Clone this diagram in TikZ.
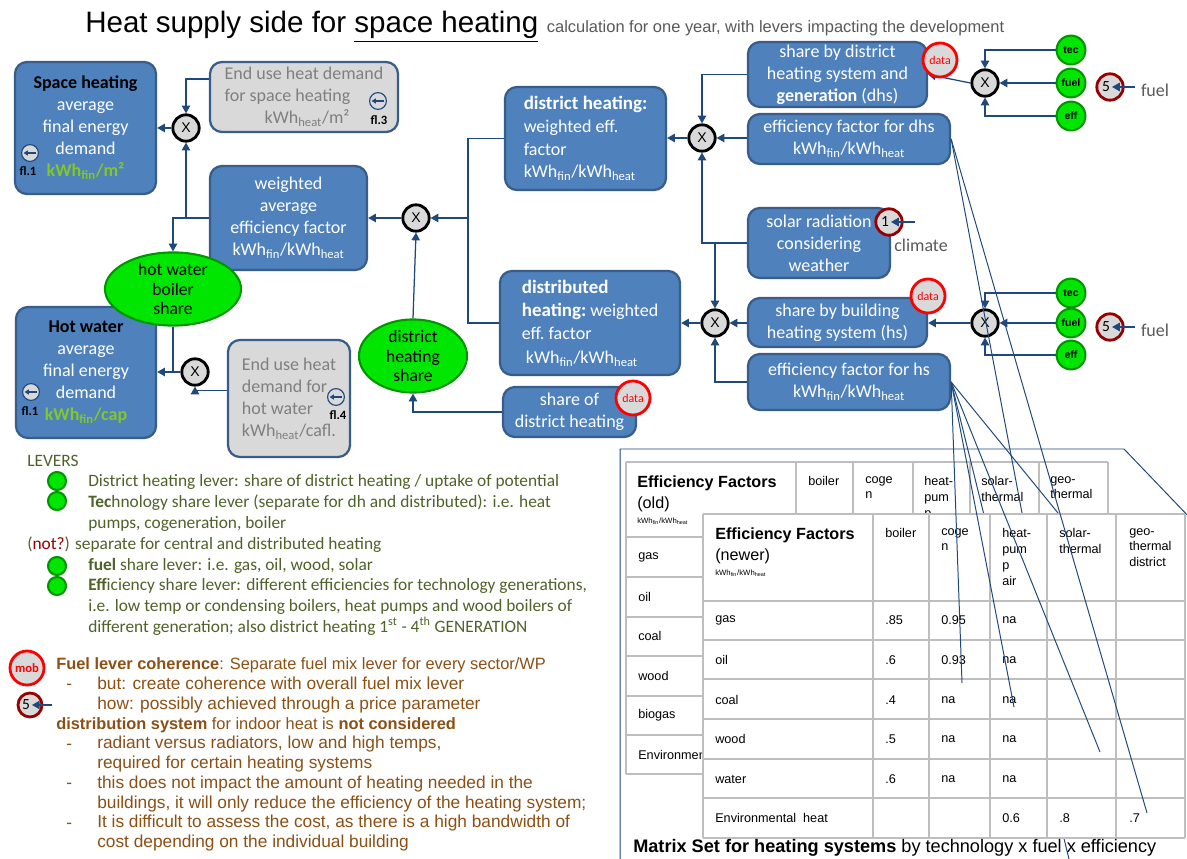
\documentclass[tikz,border=0pt]{standalone}
\usepackage{fontspec}
\setmainfont{Carlito}
\newfontfamily\arialfont{Liberation Sans}
\usetikzlibrary{positioning,arrows.meta,calc,shapes.geometric}

\definecolor{boxblue}{RGB}{79,129,189}
\definecolor{boxline}{RGB}{56,93,138}
\definecolor{boxgray}{RGB}{217,217,217}
\definecolor{txtgray}{RGB}{127,127,127}
\definecolor{notegray}{RGB}{89,89,89}
\definecolor{linkblue}{RGB}{31,73,125}
\definecolor{levgreen}{RGB}{0,230,0}
\definecolor{levgreenline}{RGB}{0,150,0}
\definecolor{kwhgreen}{RGB}{130,200,40}
\definecolor{levtxt}{RGB}{79,98,40}
\definecolor{levbrown}{RGB}{140,80,20}
\definecolor{darkred}{RGB}{150,0,0}
\definecolor{tabline}{RGB}{190,190,190}

\tikzset{
  bluebox/.style={rectangle, rounded corners=0.3cm, fill=boxblue, draw=boxline,
    line width=1.6pt, text=white, inner sep=0pt, align=center,
    font=\fontsize{12.8}{15.6}\selectfont},
  graybox/.style={bluebox, fill=boxgray, text=txtgray},
  shareell/.style={ellipse, fill=levgreen, draw=levgreenline, line width=1.5pt,
    inner sep=0pt, align=center, font=\fontsize{12.5}{14}\selectfont},
  mult/.style={circle, fill=boxgray, draw=black, line width=2pt,
    minimum size=0.66cm, inner sep=0pt, font=\arialfont\fontsize{10}{12}\selectfont},
  datacirc/.style={circle, fill=boxgray, draw=red, line width=2pt,
    minimum size=0.85cm, inner sep=0pt, text=red, font=\fontsize{8.5}{10}\selectfont},
  lever/.style={circle, fill=levgreen, draw=levgreenline, line width=1.5pt,
    minimum size=0.72cm, inner sep=0pt, font=\arialfont\bfseries\fontsize{7.5}{9}\selectfont},
  levdot/.style={circle, fill=levgreen, draw=levgreenline, line width=1.5pt,
    minimum size=0.45cm, inner sep=0pt},
  extin/.style={circle, fill=boxgray, draw=darkred, line width=2pt,
    minimum size=0.66cm, inner sep=0pt, font=\fontsize{11}{12}\selectfont},
  link/.style={draw=linkblue, line width=0.9pt, -{Triangle[length=5.5pt,width=6pt]}},
  plain/.style={draw=linkblue, line width=0.9pt},
  lead/.style={draw=linkblue, line width=0.7pt},
  tabgrid/.style={draw=tabline, line width=0.9pt},
  tabtxt/.style={inner sep=0pt, align=left, font=\arialfont\fontsize{9}{11.3}\selectfont},
  tabhead/.style={tabtxt, font=\arialfont\fontsize{11.5}{15}\selectfont},
  levtext/.style={anchor=base west, inner sep=0pt, align=left, text=levtxt,
    font=\fontsize{12.35}{14.9}\selectfont},
  brtext/.style={anchor=base west, inner sep=0pt, align=left, text=levbrown,
    font=\arialfont\fontsize{12.3}{14}\selectfont},
  fltxt/.style={inner sep=0pt, font=\bfseries\fontsize{9}{10}\selectfont},
  flicon/.pic={
    \node[circle, fill=boxgray, draw=linkblue, line width=0.8pt,
      minimum size=0.42cm, inner sep=0pt] (-c) {};
    \draw[linkblue, line width=0.8pt, -{Triangle[length=3pt,width=3.5pt]}]
      (0.16cm,0) -- (-0.16cm,0);
  }
}

\begin{document}
\begin{tikzpicture}[x=0.025cm, y=-0.025cm]
\useasboundingbox (0,0) rectangle (1187,859);
\fill[white] (0,0) rectangle (1187,859);

% title
\node[anchor=base west, inner sep=0pt, font=\arialfont\fontsize{21}{25}\selectfont]
  (title) at (85,33) {Heat supply side for \underline{space heating}};
\node[anchor=base west, inner sep=0pt, text=notegray,
  font=\arialfont\fontsize{11.7}{14}\selectfont]
  (subtitle) at ([xshift=0.2cm]title.base east)
  {calculation for one year, with levers impacting the development};

% demand side
\node[bluebox, minimum width=3.525cm, minimum height=3.3cm] (sh) at (85.5,128)
  {\textcolor{black}{\bfseries Space heating}\\average\\final energy\\demand\\
   \textcolor{kwhgreen}{\bfseries kWh\textsubscript{fin}/m²}};
\pic (fla) at (30,153) {flicon};
\node[fltxt] (fla-t) at (28,171) {fl.1};

\node[bluebox, minimum width=3.5cm, minimum height=3.275cm] (hw) at (86,372.5)
  {\textcolor{black}{\bfseries Hot water}\\average\\final energy\\demand\\
   \textcolor{kwhgreen}{\bfseries kWh\textsubscript{fin}/cap}};
\pic (flb) at (31,392) {flicon};
\node[fltxt] (flb-t) at (30,411) {fl.1};

\node[graybox, minimum width=4.7cm, minimum height=1.75cm, align=left] (eush) at (304,97)
  {End use heat demand\\for space heating\\\hspace*{1cm}kWh\textsubscript{heat}/m²};
\pic (flc) at (378,101) {flicon};
\node[fltxt] (flc-t) at (379,120) {fl.3};

\node[graybox, minimum width=3.05cm, minimum height=2.925cm, align=left] (euhw) at (289,398.5)
  {End use heat\\demand for\\hot water\\kWh\textsubscript{heat}/cafl.};
\pic (fld) at (336,397) {flicon};
\node[fltxt] (fld-t) at (338,415) {fl.4};

\node[bluebox, minimum width=3.925cm, minimum height=2.6cm] (wavg) at (288.5,218)
  {weighted\\average\\efficiency factor\\kWh\textsubscript{fin}/kWh\textsubscript{heat}};

\node[mult] (x1) at (186,128) {X};
\node[mult] (x2) at (195,372) {X};
\node[mult] (x3) at (416,218) {X};
\node[mult] (x4) at (702,138) {X};
\node[mult] (x5) at (715,323) {X};
\node[mult] (x6) at (985,83) {X};
\node[mult] (x7) at (985,323) {X};

\node[shareell, minimum width=3.4cm, minimum height=1.6cm] (hwb) at (173,289)
  {hot water\\boiler\\share};
\node[shareell, minimum width=2.7cm, minimum height=1.6cm] (dhsh) at (413,356)
  {district\\heating\\share};

\node[bluebox, minimum width=3.325cm, minimum height=1.25cm] (sodh) at (569.5,412)
  {share of\\district heating};

% supply side
\node[bluebox, minimum width=4.025cm, minimum height=2.575cm, align=left,
  font=\fontsize{12.8}{16.2}\selectfont] (dh) at (585.5,138.5)
  {{\fontsize{13.5}{16.2}\selectfont\bfseries district heating:}\\weighted eff.\\factor\\
   kWh\textsubscript{fin}/kWh\textsubscript{heat}};
\node[bluebox, minimum width=4.5cm, minimum height=2.6cm, align=left,
  font=\fontsize{12.8}{16.6}\selectfont] (dist) at (590,323)
  {{\fontsize{13.5}{16.6}\selectfont\bfseries distributed}\\
   {\fontsize{13.5}{16.6}\selectfont\bfseries heating:}\ weighted\\eff.\ factor\\
   \ kWh\textsubscript{fin}/kWh\textsubscript{heat}};

\node[bluebox, minimum width=4.475cm, minimum height=1.625cm] (shdhs) at (837.5,74.5)
  {share by district\\heating system and\\\textbf{generation} (dhs)};
\node[bluebox, minimum width=5.05cm, minimum height=1.25cm] (effdhs) at (849,139)
  {efficiency factor for dhs\\kWh\textsubscript{fin}/kWh\textsubscript{heat}};
\node[bluebox, minimum width=3.55cm, minimum height=1.75cm] (solar) at (819,243)
  {solar radiation\\considering\\weather};
\node[bluebox, minimum width=4.475cm, minimum height=1.225cm] (shhs) at (837.5,322.5)
  {share by building\\heating system (hs)};
\node[bluebox, minimum width=5.05cm, minimum height=1.4cm] (effhs) at (849,382)
  {efficiency factor for hs\\kWh\textsubscript{fin}/kWh\textsubscript{heat}};

\node[lever] (tec1) at (1071,50) {tec};
\node[lever] (fuel1) at (1071,83) {fuel};
\node[lever] (eff1) at (1071,116) {eff};
\node[lever] (tec2) at (1071,293) {tec};
\node[lever] (fuel2) at (1071,323) {fuel};
\node[lever] (eff2) at (1071,355) {eff};

\node[extin] (one) at (889,222) {1\hspace*{0.2cm}};
\node[extin] (five1) at (1110,87) {5\hspace*{0.2cm}};
\node[extin] (five2) at (1110,327) {5\hspace*{0.2cm}};
\coordinate (onein) at (915,222);
\coordinate (f1in) at (1135,87);
\coordinate (f2in) at (1135,327);
\node[text=notegray, inner sep=0pt, font=\fontsize{12.8}{15}\selectfont] (clim) at (921,245) {climate};
\node[text=notegray, inner sep=0pt, font=\fontsize{12.8}{15}\selectfont] (fuelt1) at (1155,90) {fuel};
\node[text=notegray, inner sep=0pt, font=\fontsize{12.8}{15}\selectfont] (fuelt2) at (1155,330) {fuel};

% connectors
\draw[link] (x1.west) -- (sh.east |- x1.west);
\draw[link] ($(eush.north west)!0.25!(eush.south west)$) -| (x1.north);
\draw[link] (wavg.west) -| (x1.south);
\draw[link] (wavg.west) -| (hwb.north);
\draw[link] (x2.west) -- (hw.east |- x2.west);
\draw[plain] (hwb.south) -- (hwb.south |- x2.west);
\draw[link] ($(euhw.north west)!0.43!(euhw.south west)$) -| (x2.south);
\draw[link] (x3.west) -- (wavg.east |- x3.west);
\draw[link] (dhsh.north) -- (x3.south);
\draw[link] (sodh.west) -| (dhsh.south);
\coordinate (split) at (468,218);
\draw[plain] (dh.west) -| (split) |- (dist.west);
\draw[link] (split) -- (x3.east);
\draw[link] (x4.west) -- (dh.east |- x4.west);
\draw[link] (shdhs.west) -| (x4.north);
\draw[link] (effdhs.west |- x4.east) -- (x4.east);
\draw[link] (solar.west) -| (x4.south);
\draw[link] (solar.west -| x5.north) -- (x5.north);
\draw[link] (x5.west) -- (dist.east |- x5.west);
\draw[link] (shhs.west |- x5.east) -- (x5.east);
\draw[link] (effhs.west) -| (x5.south);
\foreach \n/\m in {1/6,2/7} {
  \draw[link] (tec\n.west) -| (x\m.north);
  \draw[link] (fuel\n.west) -- (x\m.east);
  \draw[link] (eff\n.west) -| (x\m.south);
}
\draw[link] (x6.west) -- (shdhs.east);
\draw[link] (x7.west) -- (shhs.east |- x7.west);
\draw[link] (onein) -- ([xshift=0.05cm]one.center);
\draw[link] (f1in) -- ([xshift=0.05cm]five1.center);
\draw[link] (f2in) -- ([xshift=0.05cm]five2.center);

\node[datacirc] (data1) at (633,398) {data};
\node[datacirc] (data2) at (940,60) {data};
\node[datacirc] (data3) at (928,296) {data};

% levers
\node[levtext] (levhd) at (27,466) {LEVERS};
\foreach \yy [count=\i] in {481,501,566,586}
  \node[levdot] (dot\i) at (57,\yy) {};
\node[levtext] (lev1) at (88,486) {District heating lever: share of district heating / uptake of potential};
\node[levtext] (lev2) at (88,528) {\textbf{Tec}hnology share lever (separate for dh and distributed): i.e. heat\\pumps, cogeneration, boiler};
\node[levtext] (lev3) at (27,549) {(\textcolor{darkred}{not?}) separate for central and distributed heating};
\node[levtext] (lev4) at (88,570) {\textbf{fuel} share lever: i.e. gas, oil, wood, solar};
\node[levtext] (lev5) at (88,632) {\textbf{Eff}iciency share lever: different efficiencies for technology generations,\\
  i.e. low temp or condensing boilers, heat pumps and wood boilers of\\
  different generation; also district heating 1\textsuperscript{st} - 4\textsuperscript{th} GENERATION};

% coherence notes
\node[datacirc, font=\bfseries\fontsize{9}{10}\selectfont] (mob) at (27,668) {mob};
\node[extin, minimum size=0.6cm] (five3) at (30,705) {5\hspace*{0.2cm}};
\coordinate (f3in) at (52,705);
\draw[link] (f3in) -- ([xshift=0.05cm]five3.center);
\node[brtext, font=\arialfont\fontsize{11.65}{14}\selectfont] (coh) at (56,669)
  {\textbf{Fuel lever coherence}: Separate fuel mix lever for every sector/WP};
\node[brtext] (cohd) at (66,689) {-};
\node[brtext] (coh1) at (97,709) {but: create coherence with overall fuel mix lever\\how: possibly achieved through a price parameter};
\node[brtext, font=\arialfont\fontsize{11.65}{14}\selectfont] (dsys) at (56,729)
  {\textbf{distribution system} for indoor heat is \textbf{not considered}};
\node[brtext] (dsd1) at (66,749) {-};
\node[brtext] (ds1) at (97,768) {radiant versus radiators, low and high temps,\\required for certain heating systems};
\node[brtext] (dsd2) at (66,788) {-};
\node[brtext] (ds2) at (97,808) {this does not impact the amount of heating needed in the\\buildings, it will only reduce the efficiency of the heating system;};
\node[brtext] (dsd3) at (66,828) {-};
\node[brtext] (ds3) at (97,847) {It is difficult to assess the cost, as there is a high bandwidth of\\cost depending on the individual building};

% callout frame
\draw[lead] (620,865) -- (620,449) -- (1124,449) -- (1192,520);

% old matrix
\fill[white] (626,462) rectangle (1108,774);
\foreach \xx in {626,796,853,913,970,1039,1108}
  \draw[tabgrid] (\xx,462) -- (\xx,774);
\foreach \yy in {462,537,577,617,656,696,735,774}
  \draw[tabgrid] (626,\yy) -- (1108,\yy);
\node[tabhead, anchor=north west] (ohd) at (637,475) {\textbf{Efficiency Factors}\\(old)};
\node[tabtxt, anchor=west, font=\arialfont\fontsize{5.5}{6}\selectfont] (ounit) at (637,521)
  {kWh\textsubscript{fin}/kWh\textsubscript{heat}};
\foreach \xx/\txt in {808/boiler, 865/{coge\\n}, 924/{heat-\\pum\\p}, 981/{solar-\\thermal}, 1050/{geo-\\thermal}}
  \node[tabtxt, anchor=north west] (oc\xx) at (\xx,476) {\txt};
\foreach \yy/\txt in {557/gas, 597/oil, 636/coal, 676/wood, 715/biogas, 755/{Environmental heat}}
  \node[tabtxt, anchor=west] (or\yy) at (638,\yy) {\txt};

% leader line under the newer matrix
\draw[lead] (effhs.east) -- (1070,863);

% newer matrix
\fill[white] (703,514) rectangle (1185,838);
\foreach \xx in {703,873,929,990,1047,1116,1185}
  \draw[tabgrid] (\xx,514) -- (\xx,838);
\foreach \yy in {514,601,640,679,719,759,798,838}
  \draw[tabgrid] (703,\yy) -- (1185,\yy);
\node[tabhead, anchor=north west] (nhd) at (715,527) {\textbf{Efficiency Factors}\\(newer)};
\node[tabtxt, anchor=west, font=\arialfont\fontsize{5.5}{6}\selectfont] (nunit) at (715,573)
  {kWh\textsubscript{fin}/kWh\textsubscript{heat}};
\foreach \xx/\txt in {885/boiler, 941/{coge\\n}, 1002/{heat-\\pum\\p\\air}, 1059/{solar-\\thermal}, 1129/{geo-\\thermal\\district}}
  \node[tabtxt, anchor=north west] (nc\xx) at (\xx,528) {\txt};
\foreach \yy/\lab/\va/\vb/\vc in {620/gas/.85/0.95/na, 660/oil/.6/0.93/na, 700/coal/.4/na/na, 739/wood/.5/na/na, 779/water/.6/na/na} {
  \node[tabtxt, anchor=west] (nl\yy) at (715,\yy) {\lab};
  \node[tabtxt, anchor=west] (nb\yy) at (885,\yy) {\va};
  \node[tabtxt, anchor=west] (ng\yy) at (941,\yy) {\vb};
  \node[tabtxt, anchor=west] (nh\yy) at (1002,\yy) {\vc};
}
\node[tabtxt, anchor=west] (nlenv) at (715,818) {Environmental\ \ heat};
\node[tabtxt, anchor=west] (nhenv) at (1002,818) {0.6};
\node[tabtxt, anchor=west] (nsenv) at (1059,818) {.8};
\node[tabtxt, anchor=west] (ngenv) at (1129,818) {.7};

% leader lines from the efficiency boxes
\draw[lead] (effdhs.east) -- (1022,513);
\draw[lead] (effdhs.east) -- (1147,813);
\draw[lead] (effhs.east) -- (1058,513);
\draw[lead] (effhs.east) -- (962,683);
\draw[lead] (effhs.east) -- (1014,707);
\draw[lead] (effhs.east) -- (1100,752);

\node[anchor=west, inner sep=0pt, font=\arialfont\fontsize{12.9}{15}\selectfont] (matcap) at (633,848)
  {\textbf{Matrix Set for heating systems} by technology x fuel x efficiency};
\end{tikzpicture}
\end{document}
